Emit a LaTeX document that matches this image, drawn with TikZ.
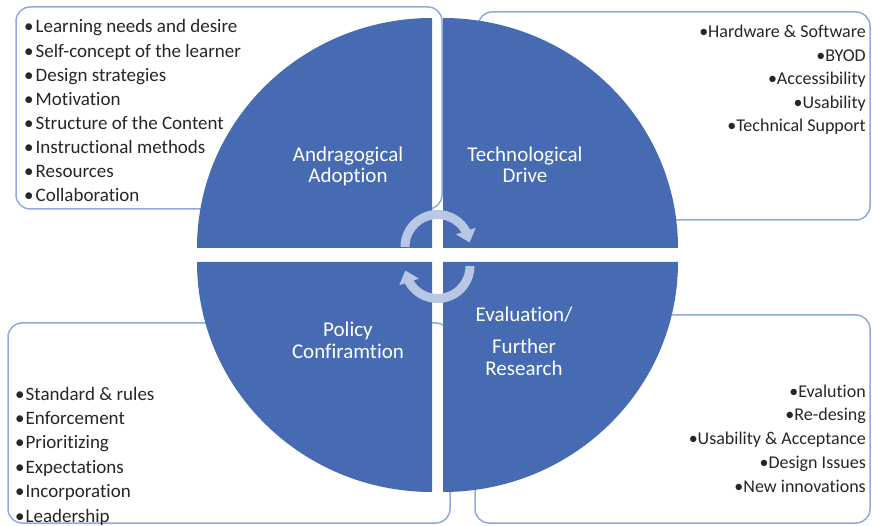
\documentclass[tikz,border=0pt]{standalone}
\usepackage{fontspec}
\setmainfont{Carlito}[Ligatures={NoCommon,NoContextual},Contextuals={NoAlternate}]
\usetikzlibrary{arrows.meta,bending}
\definecolor{qblue}{RGB}{70,107,178}
\definecolor{boxc}{RGB}{143,170,220}
\definecolor{arrc}{RGB}{184,199,228}
\begin{document}
\begin{tikzpicture}[x=1pt,y=-1pt,
  listbox/.style={draw=boxc, line width=1.5pt, rounded corners=14pt},
  quad/.style={fill=qblue},
  item/.style={font=\fontsize{19}{22}\selectfont, inner sep=0pt, text=black!85},
  ritem/.style={font=\fontsize{18}{22}\selectfont, inner sep=0pt, text=black!85},
  qlabel/.style={font=\fontsize{21}{24}\selectfont, text=white, inner sep=0pt, anchor=base},
  cyc/.style={line width=9pt, draw=arrc, -{Triangle[width=20pt,length=12pt]}}]
\useasboundingbox (0,0) rectangle (872,526);
% boxes behind the circle
\draw[listbox] (16,7) rectangle (442,209);
\draw[listbox] (478,12) rectangle (870,220);
\draw[listbox] (8,323) rectangle (450,523);
\draw[listbox] (475,315) rectangle (870,523);
% quadrants
\fill[quad] (432,248) -- ++(-235,0) arc[start angle=180,end angle=270,x radius=235,y radius=230] -- cycle;
\fill[quad] (443,248) -- ++(0,-230) arc[start angle=270,end angle=360,x radius=235,y radius=230] -- cycle;
\fill[quad] (443,262) -- ++(235,0) arc[start angle=0,end angle=90,x radius=235,y radius=230] -- cycle;
\fill[quad] (432,262) -- ++(0,230) arc[start angle=90,end angle=180,x radius=235,y radius=230] -- cycle;
% labels
\node[qlabel] (qa1) at (348,162) {Andragogical};
\node[qlabel] (qa2) at (348,183) {Adoption};
\node[qlabel] (qt1) at (525,162) {Technological};
\node[qlabel] (qt2) at (525,183) {Drive};
\node[qlabel] (qp1) at (348,337) {Policy};
\node[qlabel] (qp2) at (348,358) {Confiramt\kern0pt ion};
\node[qlabel] (qe1) at (524,322) {Evaluat\kern0pt ion/};
\node[qlabel] (qe2) at (524,353) {Further};
\node[qlabel] (qe3) at (524,375) {Research};
% cycle arrows
\coordinate (ta) at (405,247);
\coordinate (ba) at (470,266);
\draw[cyc] (ta) arc[start angle=180,end angle=352,radius=32.5];
\draw[cyc] (ba) arc[start angle=0,end angle=172,radius=32.5];
% lists
\foreach \t [count=\i] in {Learning needs and desire, Self-concept of the learner, Design strategies, Motivat\kern0pt ion, Structure of the Content, Instruct\kern0pt ional methods, Resources, Collaborat\kern0pt ion}
  \node[item, anchor=base west] (tl\i) at (24,{33+24.1*(\i-1)}) {•\hspace{2pt}\t};
\foreach \t [count=\i] in {Hardware \& Software, BYOD, Accessibility, Usability, Technical Support}
  \node[ritem, anchor=base east] (tr\i) at (866,{38+23.5*(\i-1)}) {•\t};
\foreach \t [count=\i] in {Standard \& rules, Enforcement, Priorit\kern0pt izing, Expectat\kern0pt ions, Incorporat\kern0pt ion, Leadership}
  \node[item, anchor=base west] (bl\i) at (15,{400+24.4*(\i-1)}) {•\hspace{1pt}\t};
\foreach \t [count=\i] in {Evalut\kern0pt ion, Re-desing, Usability \& Acceptance, Design Issues, New innovat\kern0pt ions}
  \node[ritem, anchor=base east] (br\i) at (866,{397+23.75*(\i-1)}) {•\t};
\end{tikzpicture}
\end{document}
